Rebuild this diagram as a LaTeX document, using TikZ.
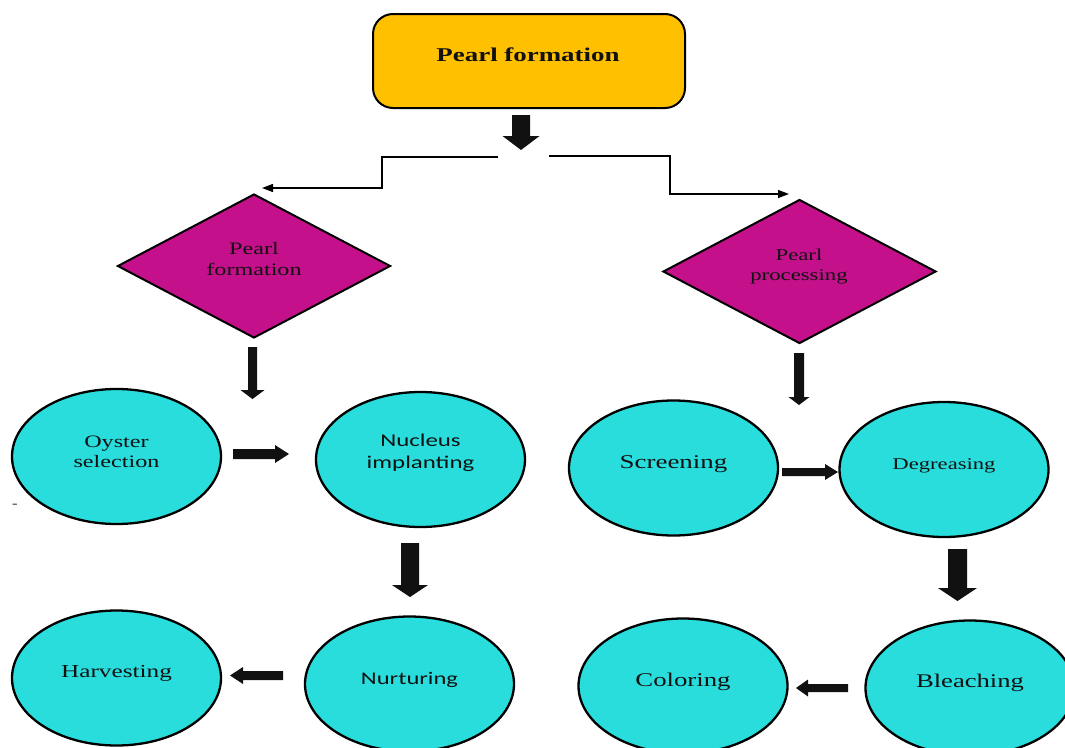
\documentclass[tikz,border=0pt]{standalone}
\usepackage{fontspec}
\usetikzlibrary{shapes.geometric,arrows.meta,calc}
\newfontfamily\myserif[FakeStretch=1.38]{Liberation Serif}
\newfontfamily\mysans[FakeStretch=1.38]{Carlito}
\definecolor{boxyellow}{HTML}{FFC000}
\definecolor{dmagenta}{HTML}{C4108A}
\definecolor{ecyan}{HTML}{2ADDDD}
\definecolor{ink}{HTML}{111111}
\newcommand\myHArrow[5]{%
  \fill[ink] ($(#1)+(0,-#3)$) -- ($(#2)+({-(#5)},-#3)$) -- ($(#2)+({-(#5)},-#4)$) -- (#2)
    -- ($(#2)+({-(#5)},#4)$) -- ($(#2)+({-(#5)},#3)$) -- ($(#1)+(0,#3)$) -- cycle;}
\newcommand\myVArrow[5]{%
  \fill[ink] ($(#1)+(-#3,0)$) -- ($(#2)+(-#3,-#5)$) -- ($(#2)+(-#4,-#5)$) -- (#2)
    -- ($(#2)+(#4,-#5)$) -- ($(#2)+(#3,-#5)$) -- ($(#1)+(#3,0)$) -- cycle;}
\tikzset{
  topbox/.style={rectangle, rounded corners=20pt, draw=black, line width=2pt, fill=boxyellow,
    minimum width=312pt, minimum height=94pt, inner sep=0pt},
  decision/.style={diamond, draw=black, line width=2pt, fill=dmagenta,
    minimum width=273pt, minimum height=144pt, inner sep=0pt, aspect=1.9},
  stepell/.style={ellipse, draw=black, line width=2.3pt, fill=ecyan,
    minimum width=209pt, minimum height=135pt, inner sep=0pt},
  txt/.style={anchor=base, inner sep=0pt, text=ink},
  thinarrow/.style={draw=black, line width=1.3pt, -{Triangle[length=11pt,width=8pt]}},
}
\begin{document}
\begin{tikzpicture}[x=1pt,y=-1pt]
\useasboundingbox (0,0) rectangle (1065,747);
\clip (0,0) rectangle (1065,747);

% top box
\node[topbox] (top) at (529,61) {};
\node[txt, font=\myserif\bfseries\fontsize{19.5}{22}\selectfont] (topT) at (528,61) {Pearl formation};

% diamonds
\node[decision] (dL) at (254,266) {};
\node[txt, font=\myserif\fontsize{17.5}{20}\selectfont] (dLa) at (254,254) {Pearl};
\node[txt, font=\myserif\fontsize{17.5}{20}\selectfont] (dLb) at (254,275) {formation};

\node[decision] (dR) at (799.5,271.5) {};
\node[txt, font=\myserif\fontsize{16.5}{20}\selectfont] (dRa) at (799,260) {Pearl};
\node[txt, font=\myserif\fontsize{16.5}{20}\selectfont] (dRb) at (799,280) {processing};

% ellipses
\node[stepell] (oys) at (116.5,456.5) {};
\node[txt, font=\myserif\fontsize{17.5}{20}\selectfont] (oysa) at (116.5,447) {Oyster};
\node[txt, font=\myserif\fontsize{17.5}{20}\selectfont] (oysb) at (116.5,467) {selection};

\node[stepell] (nuc) at (420.5,459.5) {};
\node[txt, font=\mysans\fontsize{18}{20}\selectfont] (nuca) at (420.5,446) {Nucleus};
\node[txt, font=\mysans\fontsize{18}{20}\selectfont] (nucb) at (420.5,468) {implanting};

\node[stepell] (nur) at (409.5,684) {};
\node[txt, font=\mysans\fontsize{17.8}{20}\selectfont] (nurT) at (409.5,684) {Nurturing};

\node[stepell] (har) at (116.5,678) {};
\node[txt, font=\myserif\fontsize{18.3}{20}\selectfont] (harT) at (116.5,677) {Harvesting};

\node[stepell] (scr) at (673.5,468) {};
\node[txt, font=\myserif\fontsize{19.5}{20}\selectfont] (scrT) at (673.5,468) {Screening};

\node[stepell] (deg) at (944,469.5) {};
\node[txt, font=\myserif\fontsize{16.4}{20}\selectfont] (degT) at (944,469) {Degreasing};

\node[stepell] (ble) at (970,688) {};
\node[txt, font=\myserif\fontsize{19.3}{20}\selectfont] (bleT) at (970,687) {Bleaching};

\node[stepell] (col) at (683,686) {};
\node[txt, font=\myserif\fontsize{19.4}{20}\selectfont] (colT) at (683,686) {Coloring};

% stray dash
\node[txt, font=\myserif\fontsize{12}{14}\selectfont] (dash) at (15,507) {-};

% split connectors
\coordinate (splitL) at (498,157);
\coordinate (splitR) at (549,156);
\coordinate (tipL) at (262,188);
\coordinate (tipR) at (789,194);
\draw[thinarrow] (splitL) -- ++(-116,0) |- (tipL);
\draw[thinarrow] (splitR) -- ++(121,0) |- (tipR);

% block arrows
\coordinate (a1s) at (521,115);   \coordinate (a1t) at (521,150);
\myVArrow{a1s}{a1t}{9}{18.5}{14}
\coordinate (a2s) at (252.5,347); \coordinate (a2t) at (252.5,399);
\myVArrow{a2s}{a2t}{4.5}{12}{9}
\coordinate (a3s) at (799,353);   \coordinate (a3t) at (799,405);
\myVArrow{a3s}{a3t}{5}{10.5}{8}
\coordinate (a4s) at (410,543);   \coordinate (a4t) at (410,597);
\myVArrow{a4s}{a4t}{9}{18}{12}
\coordinate (a5s) at (957.5,549); \coordinate (a5t) at (957.5,601);
\myVArrow{a5s}{a5t}{9.5}{19.5}{13}
\coordinate (a6s) at (233,454);   \coordinate (a6t) at (289,454);
\myHArrow{a6s}{a6t}{5}{9}{14}
\coordinate (a7s) at (782,472);   \coordinate (a7t) at (838,472);
\myHArrow{a7s}{a7t}{4}{8}{13}
\coordinate (a8s) at (283,675.5); \coordinate (a8t) at (230,675.5);
\myHArrow{a8s}{a8t}{4.5}{8.5}{-13}
\coordinate (a9s) at (848,688);   \coordinate (a9t) at (796,688);
\myHArrow{a9s}{a9t}{4}{8.5}{-12}
\end{tikzpicture}
\end{document}
